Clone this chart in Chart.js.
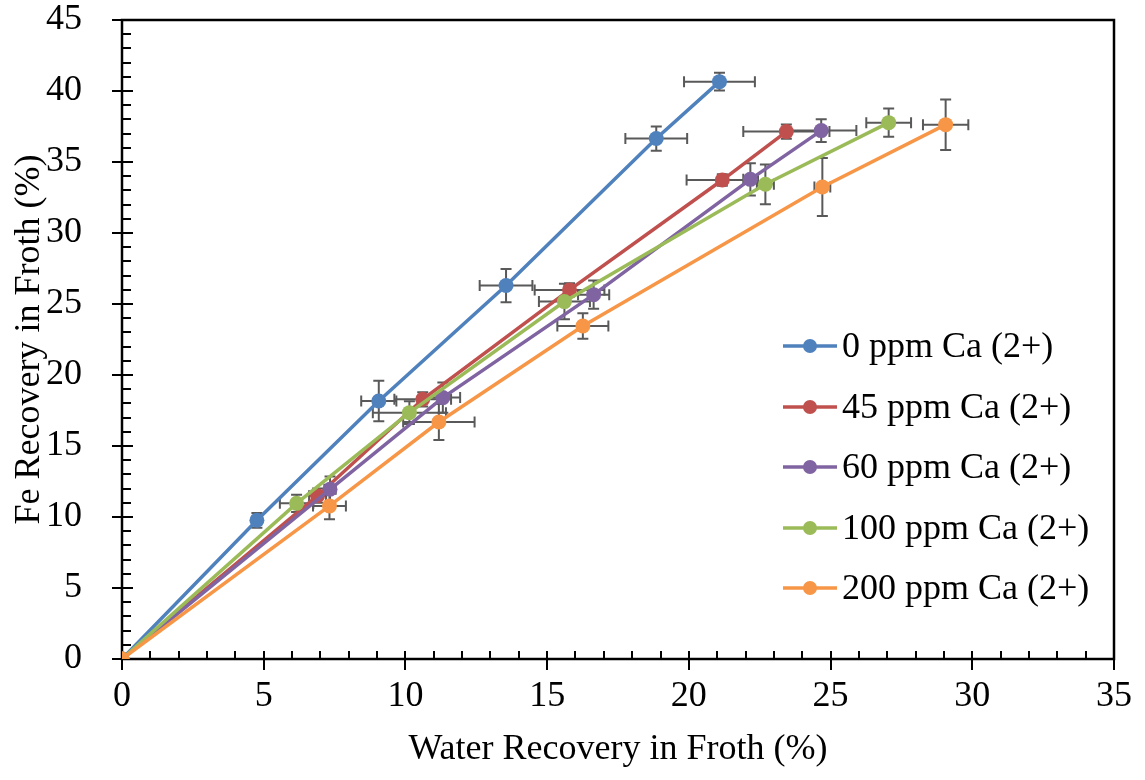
<!DOCTYPE html>
<html><head><meta charset="utf-8">
<script src="https://cdn.jsdelivr.net/npm/chart.js@4.4.1/dist/chart.umd.min.js"></script>
<style>html,body{margin:0;padding:0;background:#fff}</style>
</head><body>
<canvas id="c" width="1145" height="780"></canvas>
<script>
// ---- data ----
const seriesNames = ['0 ppm Ca (2+)', '45 ppm Ca (2+)', '60 ppm Ca (2+)', '100 ppm Ca (2+)', '200 ppm Ca (2+)'];
const seriesColors = ['#4F81BD', '#C0504D', '#8064A2', '#9BBB59', '#F79646'];

const water0   = [0, 4.76, 9.06, 13.55, 18.85, 21.08];
const fe0      = [0, 9.77, 18.17, 26.30, 36.65, 40.66];
const xErr0    = [0, 0.15, 0.62, 0.93, 1.09, 1.25];
const yErr0    = [0, 0.52, 1.43, 1.17, 0.85, 0.62];

const water45  = [0, 6.90, 10.61, 15.79, 21.18, 23.44];
const fe45     = [0, 11.50, 18.29, 25.99, 33.73, 37.14];
const xErr45   = [0, 0.30, 1.00, 1.23, 1.26, 1.52];
const yErr45   = [0, 0.50, 0.50, 0.47, 0.40, 0.50];

const water60  = [0, 7.34, 11.32, 16.64, 22.17, 24.67];
const fe60     = [0, 11.95, 18.41, 25.66, 33.78, 37.21];
const xErr60   = [0, 0.20, 0.61, 0.55, 0.25, 1.24];
const yErr60   = [0, 0.90, 1.06, 1.00, 1.14, 0.80];

const water100 = [0, 6.16, 10.14, 15.61, 22.70, 27.05];
const fe100    = [0, 10.96, 17.35, 25.17, 33.43, 37.77];
const xErr100  = [0, 0.59, 1.29, 0.90, 0.30, 0.79];
const yErr100  = [0, 0.60, 0.80, 1.25, 1.40, 1.00];

const water200 = [0, 7.32, 11.18, 16.26, 24.71, 29.06];
const fe200    = [0, 10.78, 16.69, 23.45, 33.24, 37.63];
const xErr200  = [0, 0.58, 1.26, 0.90, 0.28, 0.80];
const yErr200  = [0, 0.94, 1.27, 0.90, 2.05, 1.78];

const xMin = 0, xMax = 35, xStep = 5;
const yMin = 0, yMax = 45, yStep = 5;
const xTitle = 'Water Recovery in Froth (%)';
const yTitle = 'Fe Recovery in Froth (%)';

const waterAll = [water0, water45, water60, water100, water200];
const feAll = [fe0, fe45, fe60, fe100, fe200];
const xErrAll = [xErr0, xErr45, xErr60, xErr100, xErr200];
const yErrAll = [yErr0, yErr45, yErr60, yErr100, yErr200];

// ---- chart ----
const FONT = '"Liberation Serif","Times New Roman",serif';
const FS = 36;

const datasets = seriesNames.map((name, i) => ({
  label: name,
  data: waterAll[i].map((xv, j) => ({ x: xv, y: feAll[i][j], xErr: xErrAll[i][j], yErr: yErrAll[i][j] })),
  showLine: true,
  tension: 0,
  borderColor: seriesColors[i],
  backgroundColor: seriesColors[i],
  pointBackgroundColor: seriesColors[i],
  pointBorderColor: seriesColors[i],
  pointBorderWidth: 0,
  pointRadius: 7.5,
  pointHoverRadius: 7.5,
  borderWidth: 3.5,
  order: seriesNames.length - i
}));

const framePlugin = {
  id: 'frame',
  beforeDatasetsDraw(chart) {
    const { ctx, chartArea: a, scales: { x, y } } = chart;
    ctx.save();
    ctx.strokeStyle = '#000';
    ctx.lineCap = 'butt';
    // ticks
    ctx.lineWidth = 2;
    ctx.beginPath();
    for (let v = xMin; v <= xMax; v += 1) {
      const px = Math.round(x.getPixelForValue(v));
      const major = v % xStep === 0;
      if (major) { ctx.moveTo(px, a.bottom - 8); ctx.lineTo(px, a.bottom + 11); }
      else { ctx.moveTo(px, a.bottom); ctx.lineTo(px, a.bottom - 8); }
    }
    for (let v = yMin; v <= yMax; v += 1) {
      const py = Math.round(y.getPixelForValue(v));
      const major = v % yStep === 0;
      if (major) { ctx.moveTo(a.left - 10, py); ctx.lineTo(a.left + 11, py); }
      else { ctx.moveTo(a.left, py); ctx.lineTo(a.left + 9, py); }
    }
    ctx.stroke();
    // frame
    ctx.lineWidth = 2.5;
    ctx.strokeRect(a.left, a.top, a.right - a.left, a.bottom - a.top);

    // error bars
    ctx.strokeStyle = '#595959';
    ctx.lineWidth = 2;
    const cap = 5.5;
    chart.data.datasets.forEach((ds) => {
      ds.data.forEach((d) => {
        const cx = x.getPixelForValue(d.x), cy = y.getPixelForValue(d.y);
        ctx.beginPath();
        if (d.xErr > 0) {
          const l = x.getPixelForValue(d.x - d.xErr), r = x.getPixelForValue(d.x + d.xErr);
          ctx.moveTo(l, cy); ctx.lineTo(r, cy);
          ctx.moveTo(l, cy - cap); ctx.lineTo(l, cy + cap);
          ctx.moveTo(r, cy - cap); ctx.lineTo(r, cy + cap);
        }
        if (d.yErr > 0) {
          const t = y.getPixelForValue(d.y + d.yErr), b = y.getPixelForValue(d.y - d.yErr);
          ctx.moveTo(cx, t); ctx.lineTo(cx, b);
          ctx.moveTo(cx - cap, t); ctx.lineTo(cx + cap, t);
          ctx.moveTo(cx - cap, b); ctx.lineTo(cx + cap, b);
        }
        ctx.stroke();
      });
    });
    ctx.restore();
  },
  afterDraw(chart) {
    const { ctx } = chart;
    ctx.save();
    const x0 = 783, x1 = 837, xm = 810, xt = 842;
    const rows = [346, 407, 467, 528, 588];
    ctx.font = FS + 'px ' + FONT;
    ctx.textBaseline = 'middle';
    ctx.textAlign = 'left';
    chart.data.datasets.forEach((ds, i) => {
      const yy = rows[i];
      ctx.strokeStyle = ds.borderColor;
      ctx.lineWidth = 3.5;
      ctx.beginPath(); ctx.moveTo(x0, yy); ctx.lineTo(x1, yy); ctx.stroke();
      ctx.fillStyle = ds.borderColor;
      ctx.beginPath(); ctx.arc(xm, yy, 7, 0, Math.PI * 2); ctx.fill();
      ctx.fillStyle = '#000';
      ctx.fillText(ds.label, xt, yy + 2);
    });
    ctx.restore();
  }
};

new Chart(document.getElementById('c'), {
  type: 'scatter',
  data: { datasets },
  options: {
    responsive: false,
    animation: false,
    devicePixelRatio: 1,
    layout: { padding: { top: 20, right: 31, left: 0, bottom: 0 } },
    plugins: { legend: { display: false }, tooltip: { enabled: false } },
    scales: {
      x: {
        type: 'linear', min: xMin, max: xMax,
        afterFit: s => { s.height = 121; s.paddingLeft = 0; s.paddingRight = 0; },
        grid: { display: false },
        border: { display: false },
        ticks: { stepSize: xStep, padding: 8, color: '#000', font: { family: FONT, size: FS }, maxRotation: 0, autoSkip: false },
        title: { display: true, text: xTitle, color: '#000', font: { family: FONT, size: FS }, padding: { top: 0, bottom: 9 } }
      },
      y: {
        type: 'linear', min: yMin, max: yMax,
        afterFit: s => { s.width = 122; s.paddingTop = 0; s.paddingBottom = 0; },
        grid: { display: false },
        border: { display: false },
        ticks: { stepSize: yStep, padding: 32, color: '#000', font: { family: FONT, size: FS }, autoSkip: false },
        title: { display: true, text: yTitle, color: '#000', font: { family: FONT, size: FS }, padding: { top: 8, bottom: 0 } }
      }
    }
  },
  plugins: [framePlugin]
});
</script>
</body></html>
